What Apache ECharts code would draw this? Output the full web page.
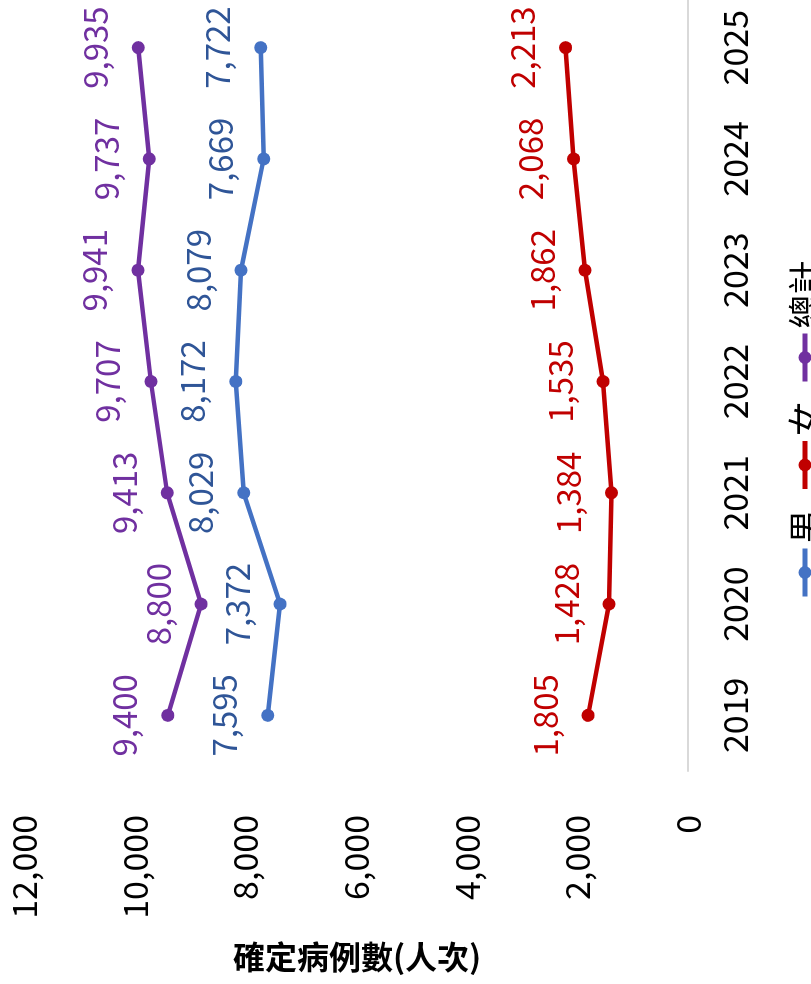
<!DOCTYPE html>
<html><head><meta charset="utf-8">
<script src="https://cdn.jsdelivr.net/npm/echarts@6/dist/echarts.min.js"></script>
<style>
html,body{margin:0;padding:0;width:811px;height:984px;overflow:hidden;background:#fff;}
#wrap{position:absolute;left:0;top:0;width:1000px;height:811px;transform-origin:0 0;transform:translate(0,984px) rotate(-90deg);}
</style></head>
<body><div id="wrap"></div>
<script>
const years = ['2019','2020','2021','2022','2023','2024','2025'];
const male = [7595, 7372, 8029, 8172, 8079, 7669, 7722];
const female = [1805, 1428, 1384, 1535, 1862, 2068, 2213];
const total = [9400, 8800, 9413, 9707, 9941, 9737, 9935];
const seriesNames = ['男', '女', '總計'];
const yTitle = '確定病例數(人次)';

const FONT = "'Noto Sans CJK TC','Noto Sans CJK SC',sans-serif";
const chart = echarts.init(document.getElementById('wrap'), null, {renderer:'canvas'});
function fmt(v){ return v.toLocaleString('en-US'); }
function mk(name, data, color, labelColor){
  return {
    name, type:'line', data, symbol:'circle', symbolSize:13,
    lineStyle:{color, width:4.5}, itemStyle:{color},
    label:{show:true, position:'top', distance:20, color:labelColor, fontSize:33, fontFamily:FONT,
      formatter:p=>fmt(p.value)},
    emphasis:{disabled:true}
  };
}
chart.setOption({
  animation:false,
  textStyle:{fontFamily:FONT},
  grid:{left:213, right:8, top:24, bottom:123, containLabel:false},
  legend:{
    data:seriesNames, left:380, top:783, itemWidth:48, itemHeight:16, itemGap:18,
    lineStyle:{width:5},
    textStyle:{fontSize:34, color:'#000', fontFamily:FONT}
  },
  xAxis:{
    type:'category', data:years, boundaryGap:true,
    axisLine:{lineStyle:{color:'#D9D9D9', width:2}},
    axisTick:{show:false},
    axisLabel:{color:'#000', fontSize:34, margin:30, fontFamily:FONT}
  },
  yAxis:{
    type:'value', min:0, max:12000, interval:2000,
    axisLine:{show:false}, axisTick:{show:false}, splitLine:{show:false},
    axisLabel:{color:'#000', fontSize:34, margin:44, fontFamily:FONT, formatter:v=>fmt(v)}
  },
  graphic:[{
    type:'text', x:27, y:357, rotation:-Math.PI/2,
    style:{text:yTitle, fontSize:32, fontWeight:'bold', fill:'#000', fontFamily:FONT,
      align:'center', verticalAlign:'middle'}
  }],
  series:[
    mk(seriesNames[0], male, '#4472C4', '#2F5597'),
    mk(seriesNames[1], female, '#C00000', '#C00000'),
    mk(seriesNames[2], total, '#7030A0', '#7030A0')
  ]
});
</script></body></html>
